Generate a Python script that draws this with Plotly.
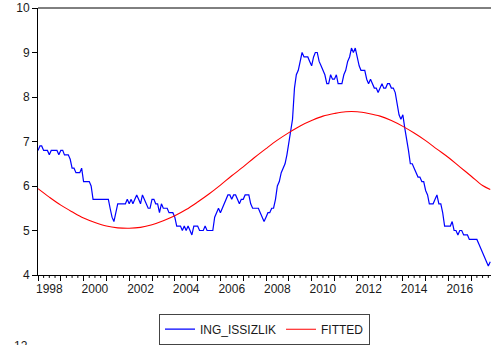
import plotly.graph_objects as go
import pandas as pd

# Monthly series ING_ISSIZLIK, 1998M01 .. 2017M11
ing_issizlik = [
    6.8, 6.9, 6.9, 6.8, 6.8, 6.8, 6.7, 6.8, 6.8, 6.8, 6.8, 6.7,  # 1998
    6.8, 6.8, 6.7, 6.7, 6.7, 6.6, 6.4, 6.4, 6.3, 6.3, 6.3, 6.4,  # 1999
    6.1, 6.1, 6.1, 6.1, 6.0, 5.7, 5.7, 5.7, 5.7, 5.7, 5.7, 5.7,  # 2000
    5.7, 5.7, 5.5, 5.3, 5.2, 5.4, 5.6, 5.6, 5.6, 5.6, 5.6, 5.7,  # 2001
    5.6, 5.7, 5.6, 5.7, 5.8, 5.7, 5.6, 5.8, 5.7, 5.6, 5.5, 5.5,  # 2002
    5.7, 5.7, 5.6, 5.6, 5.4, 5.6, 5.5, 5.5, 5.5, 5.4, 5.4, 5.4,  # 2003
    5.3, 5.1, 5.1, 5.1, 5.0, 5.1, 5.0, 5.1, 5.0, 4.9, 5.1, 5.1,  # 2004
    5.1, 5.0, 5.0, 5.0, 5.1, 5.0, 5.0, 5.0, 5.0, 5.3, 5.4, 5.5,  # 2005
    5.4, 5.5, 5.6, 5.7, 5.8, 5.8, 5.7, 5.8, 5.8, 5.7, 5.6, 5.7,  # 2006
    5.7, 5.8, 5.8, 5.8, 5.6, 5.5, 5.5, 5.5, 5.5, 5.4, 5.3, 5.2,  # 2007
    5.3, 5.4, 5.4, 5.5, 5.5, 5.7, 6.0, 6.1, 6.3, 6.4, 6.5, 6.7,  # 2008
    7.0, 7.2, 7.5, 8.2, 8.5, 8.6, 8.8, 9.0, 8.9, 8.9, 8.9, 8.8,  # 2009
    8.7, 8.9, 9.0, 9.0, 8.8, 8.7, 8.6, 8.5, 8.3, 8.3, 8.5, 8.4,  # 2010
    8.4, 8.5, 8.3, 8.3, 8.3, 8.5, 8.6, 8.8, 8.9, 9.1, 9.0, 9.1,  # 2011
    8.9, 8.7, 8.6, 8.6, 8.6, 8.4, 8.3, 8.4, 8.3, 8.2, 8.2, 8.1,  # 2012
    8.2, 8.3, 8.2, 8.2, 8.3, 8.3, 8.2, 8.2, 8.1, 7.8, 7.6, 7.5,  # 2013
    7.6, 7.3, 7.1, 6.8, 6.5, 6.5, 6.4, 6.3, 6.2, 6.2, 6.1, 6.1,  # 2014
    5.9, 5.8, 5.6, 5.6, 5.6, 5.7, 5.8, 5.6, 5.6, 5.4, 5.1, 5.1,  # 2015
    5.1, 5.1, 5.2, 5.0, 5.0, 4.9, 5.0, 5.0, 4.9, 4.9, 4.9, 4.8,  # 2016
    4.8, 4.8, 4.8, 4.8, 4.7, 4.6, 4.5, 4.4, 4.3, 4.2, 4.3,       # 2017
]
months = pd.date_range("1998-01-01", periods=len(ing_issizlik), freq="MS")

# FITTED curve read every six months (plus last observation)
fitted_dates = list(pd.date_range("1998-01-01", periods=40, freq="6MS")) + [months[-1]]
fitted = [
    5.94, 5.75, 5.57, 5.42, 5.28, 5.18, 5.10, 5.06, 5.05, 5.07,
    5.13, 5.22, 5.33, 5.47, 5.64, 5.82, 6.02, 6.23, 6.43, 6.64,
    6.84, 7.03, 7.20, 7.35, 7.47, 7.57, 7.63, 7.67, 7.67, 7.63,
    7.57, 7.47, 7.34, 7.19, 7.02, 6.83, 6.64, 6.43, 6.22, 6.01,
    5.92,
]

year_labels = [str(y) for y in range(1998, 2018, 2)]
year_label_pos = [f"{y}-07-01" for y in range(1998, 2018, 2)]
y_ticks = [4, 5, 6, 7, 8, 9, 10]

FONT = "Liberation Sans, Arial, sans-serif"

fig = go.Figure()
fig.add_trace(go.Scatter(x=months, y=ing_issizlik, mode="lines", name="ING_ISSIZLIK",
                         line=dict(color="#0000FF", width=1.2)))
fig.add_trace(go.Scatter(x=fitted_dates, y=fitted, mode="lines", name="FITTED",
                         line=dict(color="#FF0000", width=1.1, shape="spline")))

fig.update_layout(
    width=491, height=345,
    margin=dict(l=38, r=0, t=8, b=67),
    paper_bgcolor="white", plot_bgcolor="white",
    font=dict(family=FONT, size=12, color="#1a1a1a"),
    showlegend=True,
    legend=dict(orientation="h", x=0.5, xanchor="center", y=-0.145, yanchor="top",
                bordercolor="#444444", borderwidth=1, bgcolor="white",
                font=dict(size=12, family=FONT), itemwidth=30,
                tracegroupgap=0),
    xaxis=dict(
        type="date",
        range=["1998-01-01", "2017-11-13"],
        showgrid=False, zeroline=False,
        showline=True, linecolor="black", linewidth=1,
        tickmode="array", tickvals=year_label_pos, ticktext=year_labels,
        ticks="", ticklen=0, tickangle=0, ticklabelstandoff=3,
        minor=dict(ticks="outside", ticklen=5, tickcolor="black",
                   dtick="M12", tick0="1998-01-01", showgrid=False),
        tickfont=dict(size=12, family=FONT),
    ),
    yaxis=dict(
        range=[4, 10], showgrid=False, zeroline=False,
        showline=True, linecolor="black", linewidth=1,
        tickmode="array", tickvals=y_ticks,
        ticks="outside", ticklen=5, tickcolor="black",
        tickfont=dict(size=12, family=FONT),
    ),
)

# quarterly minor ticks drawn as short outside marks under the x axis
quarters = pd.date_range("1998-04-01", "2017-11-01", freq="3MS")
for q in quarters:
    if q.month == 1:
        continue
    fig.add_shape(type="line", xref="x", yref="paper", x0=q, x1=q, y0=0, y1=-0.011,
                  line=dict(color="black", width=1))

# top frame line
fig.add_shape(type="line", xref="paper", yref="paper", x0=0, x1=1, y0=1, y1=1,
              line=dict(color="black", width=1))

# top of the next chart's axis label, cut off at the bottom edge
fig.add_annotation(text="12", xref="paper", yref="paper", x=-0.0177, y=-0.2333,
                   xanchor="right", yanchor="top", showarrow=False,
                   font=dict(size=12, family=FONT, color="#1a1a1a"))

fig.write_html("out.html")
